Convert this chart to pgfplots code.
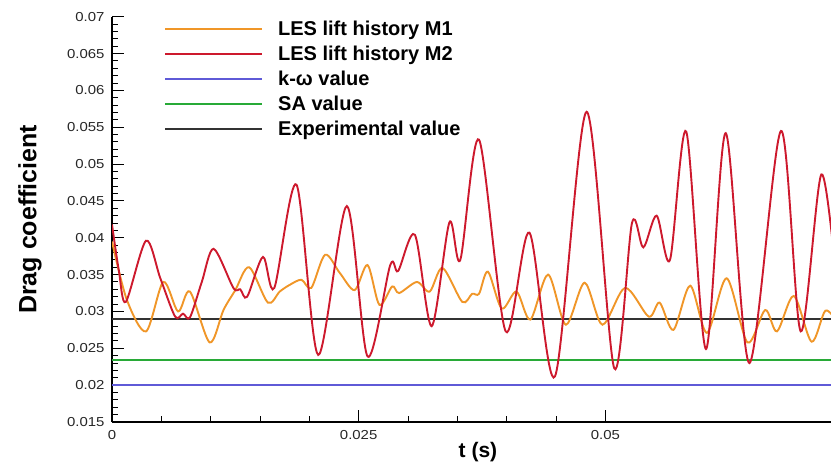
\documentclass[border=0pt]{standalone}
\usepackage{fontspec}
\setmainfont{Liberation Sans}
\newfontfamily\tickfont{Liberation Sans}[FakeStretch=1.15]
\usepackage{pgfplots}
\pgfplotsset{compat=1.18}
\usetikzlibrary{calc}
\definecolor{orangeA}{RGB}{240,150,40}
\definecolor{redA}{RGB}{205,25,45}
\definecolor{blueA}{RGB}{95,90,215}
\definecolor{greenA}{RGB}{40,170,55}
\definecolor{blackA}{RGB}{50,50,50}
\begin{document}
\begin{tikzpicture}
\begin{axis}[
  name=ax,
  scale only axis, width=719pt, height=405.3pt,
  xmin=0, xmax=0.07287, ymin=0.015, ymax=0.07,
  axis x line=bottom, axis y line=left,
  axis line style={-, line width=1.8pt, black},
  xtick={0,0.025,0.05}, xticklabels={0,0.025,0.05},
  ytick={0.015,0.02,0.025,0.03,0.035,0.04,0.045,0.05,0.055,0.06,0.065,0.07},
  yticklabels={0.015,0.02,0.025,0.03,0.035,0.04,0.045,0.05,0.055,0.06,0.065,0.07},
  scaled x ticks=false, scaled y ticks=false,
  minor x tick num=4, minor y tick num=4,
  tick align=inside, major tick length=12pt, minor tick length=6pt,
  every tick/.style={black, line width=1pt},
  tick label style={font=\tickfont\fontsize{13}{14}\selectfont, text=black!85},
  yticklabel style={xshift=-4pt},
  xticklabel style={yshift=-5pt},
  xlabel={t (s)}, ylabel={Drag coefficient},
  xlabel style={font=\fontsize{21}{24}\selectfont\bfseries, at={(axis description cs:0.509,-0.074)}, anchor=center},
  ylabel style={font=\fontsize{25}{28}\selectfont\bfseries, at={(axis description cs:-0.114,0.5)}, anchor=center},
  legend cell align=left,
  legend style={draw=none, fill=none, at={(axis description cs:0.0723,0.9937)}, anchor=north west,
    inner sep=0pt, row sep=4.8pt, column sep=0pt,
    font=\fontsize{20}{22}\selectfont\bfseries},
  legend image code/.code={\draw[#1] (0pt,0pt) -- (97pt,0pt); \path (110pt,0pt);},
]
\addplot[blueA, line width=1.4pt, forget plot] coordinates {(0,0.02) (0.0735,0.02)};
\addplot[greenA, line width=1.4pt, forget plot] coordinates {(0,0.0234) (0.0735,0.0234)};
\addplot[blackA, line width=1.4pt, forget plot] coordinates {(0,0.029) (0.0735,0.029)};

\addlegendimage{draw=orangeA, line width=2pt}\addlegendentry{LES lift history M1}
\addlegendimage{draw=redA, line width=1.6pt}\addlegendentry{LES lift history M2}
\addlegendimage{draw=blueA, line width=1.6pt}\addlegendentry{k-ω value}
\addlegendimage{draw=greenA, line width=1.6pt}\addlegendentry{SA value}
\addlegendimage{draw=blackA, line width=1.8pt}\addlegendentry{Experimental value}

\addplot[orangeA, line width=1.9pt, smooth, forget plot] coordinates {
(0.0000,0.0395) (0.0015,0.0316) (0.00345,0.0273) (0.0052,0.0340) (0.0067,0.0300)
(0.0079,0.0327) (0.0099,0.0258) (0.0113,0.0302) (0.0125,0.0329) (0.0139,0.0360)
(0.0158,0.0312) (0.0170,0.0327) (0.0180,0.0336) (0.0192,0.0343) (0.0202,0.0332)
(0.0216,0.0377) (0.0231,0.0352) (0.0246,0.0329) (0.0259,0.0363) (0.0271,0.0309)
(0.0284,0.0334) (0.0291,0.0325) (0.0309,0.0340) (0.0322,0.0327) (0.0335,0.0359)
(0.0355,0.0313) (0.0365,0.0324) (0.0372,0.0324) (0.0381,0.0354) (0.0395,0.0304)
(0.0410,0.0327) (0.0424,0.0289) (0.0442,0.0350) (0.0460,0.0282) (0.0479,0.0339)
(0.0497,0.0282) (0.0520,0.0332) (0.0544,0.0293) (0.0555,0.0312) (0.0569,0.0275)
(0.0586,0.0335) (0.0603,0.0271) (0.0623,0.0345) (0.0644,0.0258) (0.0662,0.0302)
(0.0674,0.0273) (0.0691,0.0321) (0.0709,0.0259) (0.0723,0.0301) (0.0735,0.0285)
};

\addplot[redA, line width=1.9pt, smooth, forget plot] coordinates {
(0.0000,0.0418) (0.0007,0.0355) (0.0014,0.0313) (0.00345,0.0396) (0.0049,0.0345)
(0.0064,0.0293) (0.0072,0.0297) (0.0079,0.0292) (0.0091,0.0340) (0.0103,0.0385)
(0.0123,0.0332) (0.0130,0.0330) (0.0137,0.0320) (0.0153,0.0374) (0.01645,0.0332)
(0.0187,0.0472) (0.0209,0.0241) (0.0238,0.0443) (0.0259,0.0239) (0.0282,0.0363)
(0.0290,0.0355) (0.0307,0.0404) (0.0324,0.0280) (0.0342,0.0421) (0.0353,0.0370)
(0.0372,0.0533) (0.0399,0.0273) (0.0423,0.0407) (0.0449,0.0212) (0.0481,0.0571)
(0.0509,0.0223) (0.0527,0.0420) (0.05385,0.0387) (0.0552,0.0430) (0.05655,0.0370)
(0.0582,0.0544) (0.0602,0.0249) (0.0622,0.0542) (0.0646,0.0230) (0.0678,0.0545)
(0.0698,0.0273) (0.0719,0.0486) (0.0735,0.0330)
};
\end{axis}
\pgfresetboundingbox
\path[use as bounding box] ($(ax.south west)+(-112pt,-44pt)$) rectangle ($(ax.north east)+(0pt,16.7pt)$);
\end{tikzpicture}
\end{document}
